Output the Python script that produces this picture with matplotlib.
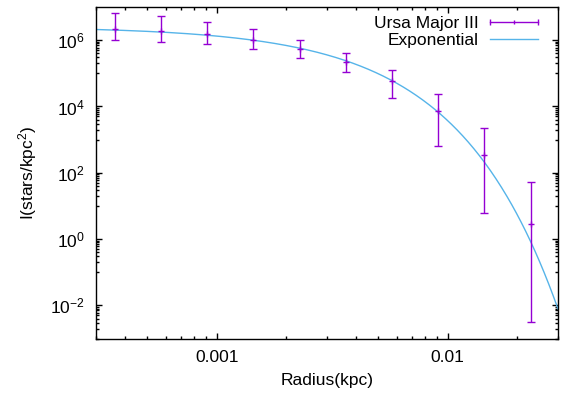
import numpy as np
import matplotlib
matplotlib.use('Agg')
import matplotlib.pyplot as plt
from matplotlib.lines import Line2D
from matplotlib.legend_handler import HandlerBase
from matplotlib.ticker import FixedLocator, LogLocator, NullFormatter, LogFormatterMathtext

#### DATA

radius = [3.63e-4, 5.75e-4, 9.1e-4, 1.44e-3, 2.29e-3, 3.63e-3, 5.75e-3, 9.1e-3, 1.44e-2, 2.29e-2]
intensity = [2.24e6, 1.95e6, 1.51e6, 9.8e5, 5.5e5, 2.14e5, 5.7e4, 7.1e3, 3.5e2, 2.76]
err_hi = [6.8e6, 5.25e6, 3.64e6, 2.1e6, 1.0e6, 4.07e5, 1.23e5, 2.34e4, 2.2e3, 54.]
err_lo = [1.02e6, 8.9e5, 7.4e5, 5.26e5, 2.94e5, 1.07e5, 1.74e4, 6.6e2, 5.9, 3.2e-3]

# exponential profile I0*exp(-r/rs)
I0 = 2.55e6
rs = 1.53e-3

xlim = (3e-4, 3e-2)
ylim = (1e-3, 1e7)

purple = '#9400d3'
blue = '#56b4e9'

#### PLOT

plt.rcParams['font.family'] = ['Liberation Sans', 'DejaVu Sans']
plt.rcParams['mathtext.fontset'] = 'custom'
plt.rcParams['mathtext.rm'] = 'Liberation Sans'
plt.rcParams['mathtext.it'] = 'Liberation Sans'
plt.rcParams['font.size'] = 12.5

fg = plt.figure(figsize=(5.63, 3.97), dpi=100)
ax = fg.add_axes([96/563, 1-338.5/397, (558-96)/563, (338.5-7)/397])

intensity = np.array(intensity)
yerr = [intensity - np.array(err_lo), np.array(err_hi) - intensity]

eb = ax.errorbar(radius, intensity, yerr=yerr, fmt='+', color=purple, ms=5, mew=1.0,
	elinewidth=1.0, capsize=2.6, capthick=1.0, zorder=3, label='Ursa Major III')

r_fit = np.logspace(np.log10(xlim[0]), np.log10(xlim[1]), 500)
ln_fit, = ax.plot(r_fit, I0*np.exp(-r_fit/rs), color=blue, lw=1.0, label='Exponential', zorder=2)

ax.set_xscale('log')
ax.set_yscale('log')
ax.set_xlim(*xlim)
ax.set_ylim(*ylim)

ax.yaxis.set_major_locator(FixedLocator([1e-2, 1e0, 1e2, 1e4, 1e6]))
ax.yaxis.set_major_formatter(LogFormatterMathtext())
ax.yaxis.set_minor_locator(FixedLocator([m*10.0**e for e in (-3, -1, 1, 3, 5) for m in range(1, 10)]))
ax.yaxis.set_minor_formatter(NullFormatter())

ax.xaxis.set_major_locator(FixedLocator([1e-3, 1e-2]))
ax.set_xticklabels(['0.001', '0.01'])
ax.xaxis.set_minor_locator(LogLocator(base=10, subs=np.arange(2, 10)))
ax.xaxis.set_minor_formatter(NullFormatter())

ax.tick_params(which='both', direction='in', top=True, right=True, width=1.0)
ax.tick_params(which='major', length=4.5, pad=8)
ax.tick_params(which='minor', length=2.3)
for s in ax.spines.values():
	s.set_linewidth(1.0)

ax.set_xlabel('Radius(kpc)', labelpad=6)
ax.set_ylabel(r'I(stars/kpc$^2$)', labelpad=8)


class HandlerBar(HandlerBase):
	def create_artists(self, legend, orig_handle, xdescent, ydescent, width, height, fontsize, trans):
		x0 = -xdescent
		x1 = x0 + width
		yc = -ydescent + height/2
		line = Line2D([x0, x1], [yc, yc], color=purple, lw=1.0)
		caps = Line2D([x0, x1], [yc, yc], ls='none', marker='|', ms=5, mew=1.0, color=purple)
		mid = Line2D([(x0+x1)/2], [yc], ls='none', marker='|', ms=3.5, mew=1.0, color=purple)
		for a in (line, caps, mid):
			a.set_transform(trans)
		return [line, caps, mid]


leg = ax.legend([eb, ln_fit], ['Ursa Major III', 'Exponential'], loc='upper right',
	bbox_to_anchor=(0.957, 0.974), markerfirst=False, frameon=False,
	handlelength=2.8, handletextpad=0.63, labelspacing=0.12, borderaxespad=0.0, borderpad=0.0,
	handler_map={eb: HandlerBar()})

plt.savefig('out.png', dpi=100)
